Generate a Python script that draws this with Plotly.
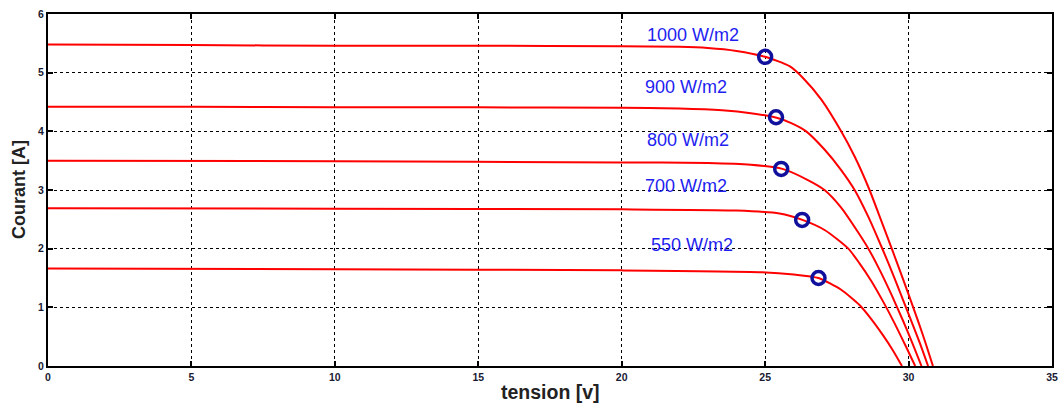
import plotly.graph_objects as go

# ---- data ----
v_1000 = [0, 5, 10, 15, 20, 22, 23, 24, 25, 25.85, 26.32, 26.96, 27.65, 28.12, 28.64, 28.99, 29.3, 29.65, 30.0, 30.35, 30.6, 30.85]
i_1000 = [5.48, 5.47, 5.46, 5.46, 5.45, 5.44, 5.42, 5.37, 5.27, 5.11, 4.91, 4.54, 4.0, 3.57, 3.0, 2.55, 2.15, 1.69, 1.22, 0.74, 0.38, 0.0]

v_900 = [0, 5, 10, 15, 20, 22, 23.5, 24.5, 25.4, 25.91, 26.43, 27.07, 27.65, 28.12, 28.59, 28.9, 29.3, 29.7, 30.1, 30.4, 30.68]
i_900 = [4.42, 4.42, 4.41, 4.41, 4.40, 4.39, 4.36, 4.31, 4.23, 4.14, 4.0, 3.69, 3.34, 3.0, 2.55, 2.21, 1.75, 1.26, 0.76, 0.38, 0.0]

v_800 = [0, 10, 20, 23, 24.5, 25.6, 26.49, 27.07, 27.65, 28.24, 28.6, 29.0, 29.4, 29.8, 30.15, 30.45]
i_800 = [3.50, 3.49, 3.47, 3.46, 3.43, 3.36, 3.17, 3.0, 2.70, 2.28, 2.0, 1.63, 1.22, 0.78, 0.37, 0.0]

v_700 = [0, 10, 20, 24, 25.5, 26.3, 27.1, 27.9, 28.29, 28.7, 29.1, 29.5, 29.9, 30.23]
i_700 = [2.69, 2.68, 2.67, 2.65, 2.60, 2.49, 2.31, 2.0, 1.75, 1.45, 1.11, 0.74, 0.34, 0.0]

v_550 = [0, 10, 20, 24.86, 26, 26.86, 27.65, 28.29, 28.7, 29.1, 29.45, 29.77]
i_550 = [1.66, 1.65, 1.63, 1.60, 1.56, 1.50, 1.30, 1.04, 0.80, 0.53, 0.27, 0.0]

mpp_v = [25.0, 25.38, 25.56, 26.29, 26.86]
mpp_i = [5.27, 4.24, 3.36, 2.49, 1.50]

labels = ["1000 W/m2", "900 W/m2", "800 W/m2", "700 W/m2", "550 W/m2"]
label_v = [20.8, 20.75, 20.8, 20.75, 20.95]
label_i = [5.65, 4.75, 3.86, 3.07, 2.07]

x_ticks = [0, 5, 10, 15, 20, 25, 30, 35]
y_ticks = [0, 1, 2, 3, 4, 5, 6]

FONT = "Liberation Sans, Arial, sans-serif"

fig = go.Figure()
for v, i in [(v_1000, i_1000), (v_900, i_900), (v_800, i_800), (v_700, i_700), (v_550, i_550)]:
    fig.add_trace(go.Scatter(x=v, y=i, mode="lines",
                             line=dict(color="#ff0000", width=2, shape="spline", smoothing=0.6),
                             showlegend=False, hoverinfo="skip"))

fig.add_trace(go.Scatter(x=mpp_v, y=mpp_i, mode="markers",
                         marker=dict(symbol="circle-open", size=13, color="#10109c",
                                     line=dict(color="#10109c", width=3.5)),
                         showlegend=False))

for t, v, i in zip(labels, label_v, label_i):
    fig.add_annotation(x=v, y=i, text=t, showarrow=False, xanchor="left", yanchor="middle",
                       font=dict(family=FONT, size=18, color="#1e1ef0"))

# axis titles placed as paper annotations
fig.add_annotation(x=0.5, y=0, xref="paper", yref="paper", yshift=-26, text="tension [v]",
                   showarrow=False, xanchor="center", yanchor="middle",
                   font=dict(family=FONT, size=19.5, color="#222222", weight="bold"))
fig.add_annotation(x=0, y=0.5, xref="paper", yref="paper", xshift=-29, text="Courant [A]",
                   showarrow=False, textangle=-90, xanchor="center", yanchor="middle",
                   font=dict(family=FONT, size=18, color="#222222", weight="bold"))

axis_common = dict(showline=True, linecolor="#000000", linewidth=2, mirror="ticks",
                   ticks="inside", ticklen=5, tickcolor="#000000", tickwidth=1.5,
                   showgrid=True, gridcolor="#000000", gridwidth=1.2, griddash="dot",
                   zeroline=False, automargin=False,
                   tickfont=dict(family=FONT, size=10.5, color="#1a1a33", weight="bold"))

fig.update_xaxes(range=[0, 35], tickvals=x_ticks, ticktext=[str(t) for t in x_ticks], **axis_common)
fig.update_yaxes(range=[0, 6], tickvals=y_ticks, ticktext=[str(t) for t in y_ticks], **axis_common)

fig.update_layout(width=1062, height=407, margin=dict(l=48, r=10, t=14, b=41, autoexpand=False),
                  paper_bgcolor="white", plot_bgcolor="white")

fig.write_html("out.html", config={"displayModeBar": False},
               post_script="document.body.style.margin='0';document.body.style.padding='0';"
                           "document.documentElement.style.overflow='hidden';")
